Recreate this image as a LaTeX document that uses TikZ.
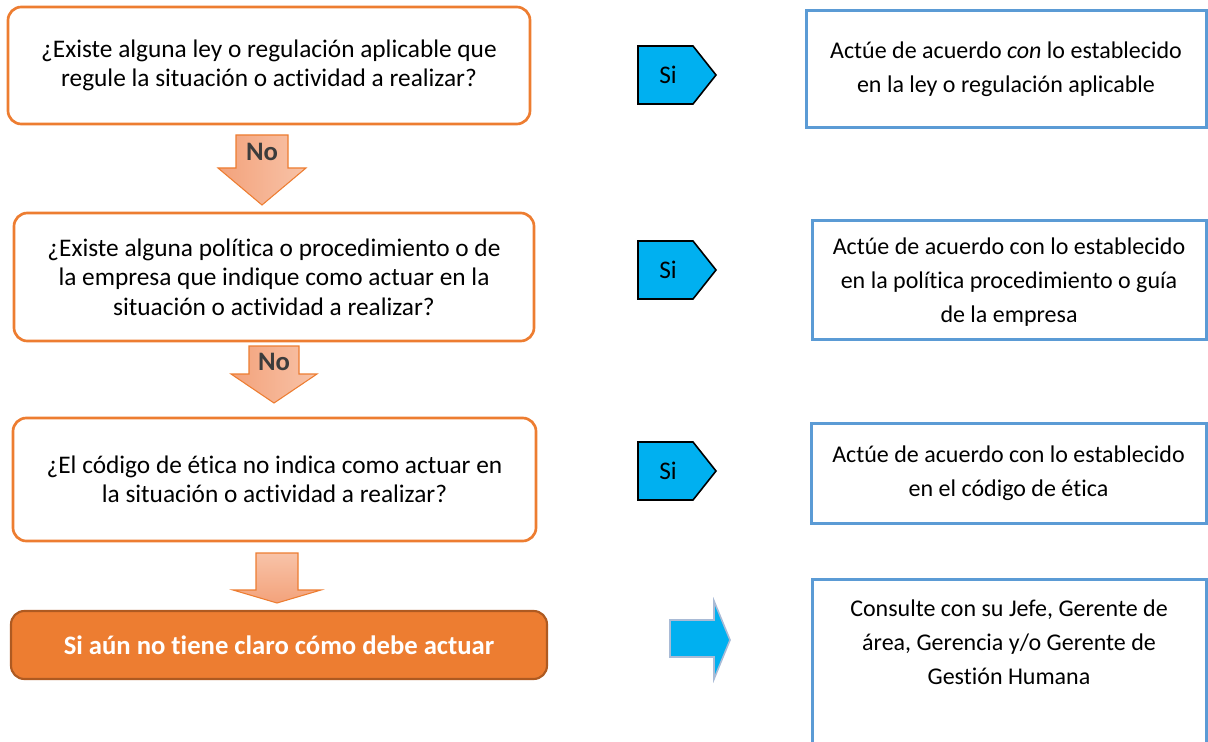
\documentclass[tikz,border=0pt]{standalone}
\usepackage{fontspec}
\setmainfont{Carlito}[Ligatures=NoCommon]
\definecolor{orgline}{HTML}{ED7D31}
\definecolor{orgfill}{HTML}{ED7D31}
\definecolor{orgdark}{HTML}{AE5A21}
\definecolor{blueline}{HTML}{5B9BD5}
\definecolor{cyanfill}{HTML}{00B0F0}
\definecolor{peachA}{HTML}{F3A27B}
\definecolor{peachB}{HTML}{F8C3A8}
\definecolor{nogray}{HTML}{3C3C3C}
\definecolor{arrowedge}{HTML}{A9BBD6}
\begin{document}
\begin{tikzpicture}[x=0.75pt,y=-0.75pt,
  qbox/.style={draw=orgline, line width=2pt, rounded corners=10pt, align=center,
    font=\fontsize{19}{22}\selectfont, inner sep=0pt},
  abox/.style={draw=blueline, line width=2.25pt, align=center,
    font=\fontsize{18}{25.5}\selectfont, inner sep=0pt},
  atext/.style={align=center, font=\fontsize{18}{25.5}\selectfont, inner sep=0pt},
  noarrow/.style={draw=orgline, line width=0.8pt, left color=peachA, right color=peachB},
  downarrow/.style={draw=orgline, line width=0.8pt, top color=peachB, bottom color=peachA},
  siarrow/.style={draw=black, line width=1.2pt, fill=cyanfill},
  notext/.style={font=\fontsize{20}{22}\bfseries\selectfont, text=nogray, inner sep=0pt},
  sitext/.style={font=\fontsize{19}{22}\selectfont, inner sep=0pt}
]
\useasboundingbox (0,0) rectangle (1208,742);

% left question boxes
\node[qbox, minimum width=391.5pt, minimum height=87.75pt] (q1) at (269,65.5)
  {¿Existe alguna ley o regulación aplicable que\\regule la situación o actividad a realizar?};
\node[qbox, minimum width=390pt, minimum height=96pt] (q2) at (274,277)
  {¿Existe alguna política o procedimiento o de\\la empresa que indique como actuar en la\\situación o actividad a realizar?};
\node[qbox, minimum width=392.25pt, minimum height=92.25pt] (q3) at (274.5,479.5)
  {¿El código de ética no indica como actuar en\\la situación o actividad a realizar?};
\node[draw=orgdark, line width=1.6pt, fill=orgfill, rounded corners=10pt, inner sep=0pt,
  minimum width=402pt, minimum height=51pt, text=white,
  font=\fontsize{20}{22}\bfseries\selectfont] (q4) at (279,645)
  {Si aún no tiene claro cómo debe actuar};

% right answer boxes
\node[abox, minimum width=300pt, minimum height=87.75pt] (a1) at (1006,69.5)
  {Actúe de acuerdo \textit{con} lo establecido\\en la ley o regulación aplicable};
\node[draw=blueline, line width=2.25pt, inner sep=0pt, minimum width=295.5pt,
  minimum height=89.25pt] (a2box) at (1009,279.5) {};
\node[atext] (a2) at (1009,282)
  {Actúe de acuerdo con lo establecido\\en la política procedimiento o guía\\de la empresa};
\node[abox, minimum width=296.25pt, minimum height=75pt] (a3) at (1008.5,473)
  {Actúe de acuerdo con lo establecido\\en el código de ética};
\node[draw=blueline, line width=2.25pt, inner sep=0pt, minimum width=295.5pt,
  minimum height=150pt] (a4box) at (1009,679) {};
\node[atext, anchor=north] (a4) at (1009,600)
  {Consulte con su Jefe, Gerente de\\área, Gerencia y/o Gerente de\\Gestión Humana};

% "No" arrows
\path[noarrow] (236,135) -- (288,135) -- (288,168) -- (306,168) -- (262,205)
  -- (218,168) -- (236,168) -- cycle;
\node[notext] (no1) at (262,152) {No};
\path[noarrow] (249,346) -- (299,346) -- (299,374) -- (317,374) -- (274,403)
  -- (231,374) -- (249,374) -- cycle;
\node[notext] (no2) at (274,362) {No};
\path[downarrow] (256,553) -- (298,553) -- (298,590) -- (321,590) -- (277,603)
  -- (233,590) -- (256,590) -- cycle;

% "Si" arrows
\foreach \c/\n in {75/si1, 270/si2, 471/si3}{
  \path[siarrow] (638,\c-29) -- (693,\c-29) -- (716,\c) -- (693,\c+29)
    -- (638,\c+29) -- cycle;
  \node[sitext] (\n) at (668,\c) {Si};
}

% bottom blue arrow
\path[draw=arrowedge, line width=1.2pt, fill=cyanfill] (670,620) -- (714,620)
  -- (714,601) -- (730,640) -- (714,679) -- (714,657) -- (670,657) -- cycle;
\end{tikzpicture}
\end{document}
